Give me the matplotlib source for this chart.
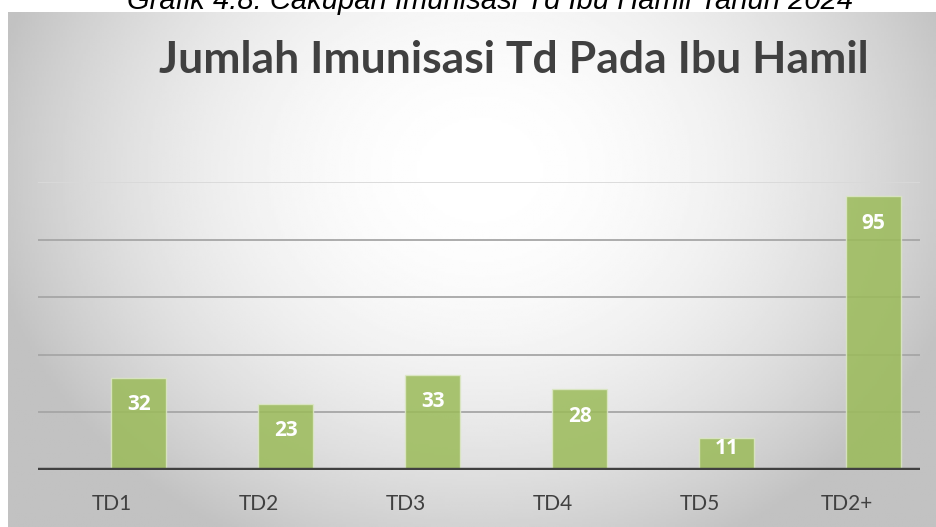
import numpy as np
import matplotlib.pyplot as plt

# --- Data ---
categories = ['TD1', 'TD2', 'TD3', 'TD4', 'TD5', 'TD2+']
values = [32, 23, 33, 28, 11, 95]
y_ticks = [0, 20, 40, 60, 80, 100]

TITLE = 'Jumlah Imunisasi Td Pada Ibu Hamil'
CAPTION = 'Grafik 4.8. Cakupan Imunisasi Td Ibu Hamil Tahun 2024'

W, H = 936, 527
BAR_COLOR = '#9BBB59'
TEXT_COLOR = '#404040'

fig = plt.figure(figsize=(W / 100, H / 100), dpi=100)
fig.patch.set_facecolor('white')

# caption above the chart, cut off by the top edge like the reference
fig.text(490 / W, 1 - 9 / H, CAPTION, ha='center', va='baseline',
         fontsize=21, style='italic', family='Liberation Sans', color='black')

# chart area with radial gradient background
bg = fig.add_axes([8 / W, 0, 1 - 8 / W, 1 - 12 / H])
gx, gy = np.meshgrid(np.linspace(8, W, 400), np.linspace(12, H, 240))
r2 = ((gx - 480) / 500) ** 2 + ((gy - 170) / 420) ** 2
shade = np.clip(1 - 0.24 * r2, 0.76, 1)
bg.imshow(shade, cmap='gray', vmin=0, vmax=1, aspect='auto',
          extent=[0, 1, 0, 1], origin='upper')
bg.set_axis_off()

fig.text(514 / W, 1 - 60 / H, TITLE, ha='center', va='center',
         fontsize=32, fontweight='bold', family='Lato', color=TEXT_COLOR)

ax = fig.add_axes([38 / W, (H - 470) / H, (920 - 38) / W, (470 - 182) / H])
ax.patch.set_alpha(0)
x = np.arange(len(categories))
offset = 0.185
width = 0.375

for t in y_ticks[1:]:
    col = '#D9D9D9' if t == y_ticks[-1] else '#A6A6A6'
    ax.axhline(t, color=col, lw=1.3, zorder=1)

ax.bar(x + offset, values, width, color=BAR_COLOR, alpha=0.85,
       edgecolor='#DDE8C6', linewidth=1, zorder=2)

px_per_unit = (470 - 182) / 100
for xi, v in zip(x, values):
    bar_px = v * px_per_unit
    drop = 27 if bar_px > 45 else 10
    ax.text(xi + offset, v - drop / px_per_unit, str(v), ha='center', va='center',
            color='white', fontsize=15, fontweight='bold', family='Open Sans', zorder=3)

ax.axhline(0, color=TEXT_COLOR, lw=3.2, zorder=4)
ax.set_xlim(-0.5, len(categories) - 0.5)
ax.set_ylim(0, 100)
ax.set_xticks(x)
ax.set_xticklabels(categories, fontsize=15, color=TEXT_COLOR, family='Lato')
ax.tick_params(axis='x', length=0, pad=17)
ax.set_yticks([])
for s in ax.spines.values():
    s.set_visible(False)

fig.savefig('out.png', dpi=100)
